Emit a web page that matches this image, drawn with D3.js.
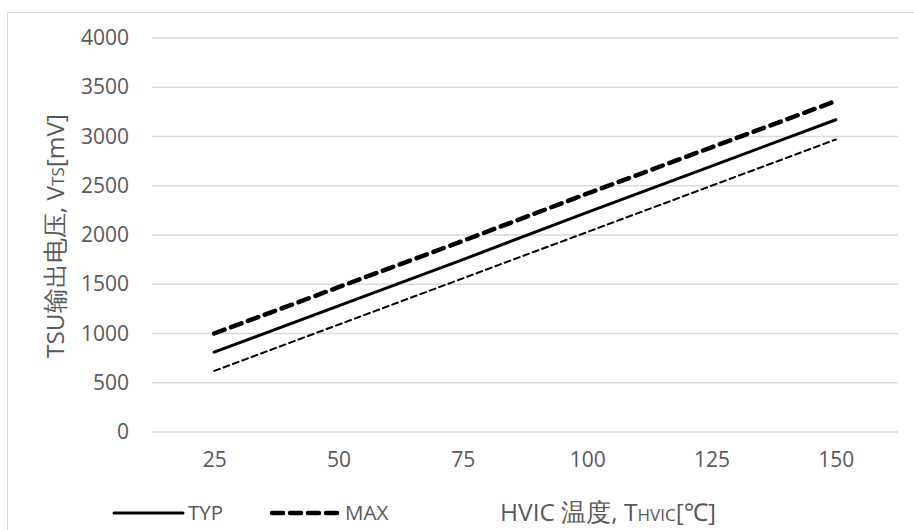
<!DOCTYPE html>
<html>
<head>
<meta charset="utf-8">
<script src="https://cdn.jsdelivr.net/npm/d3@7"></script>
<style>
  body { margin: 0; background: #fff; }
  text { font-family: "Open Sans", "Noto Sans", sans-serif; fill: #595959; }
</style>
</head>
<body>
<div class="board"></div>
<script>
// chart data
var temps = [25, 50, 75, 100, 125, 150];
var typVals = [810, 1280, 1750, 2230, 2700, 3170];
var maxVals = [1000, 1470, 1940, 2420, 2890, 3360];
var minVals = [620, 1090, 1560, 2030, 2500, 2970];
var yTicks = [0, 500, 1000, 1500, 2000, 2500, 3000, 3500, 4000];

var width = 914;
var height = 530;
var plot = {left: 152, right: 898, top: 38, bottom: 432};

var svg = d3.select('.board').append('svg')
  .attr('width', width)
  .attr('height', height);

// chart area frame (only top and left are in view)
svg.append('rect')
  .attr('x', 7.5).attr('y', 12.5)
  .attr('width', 940).attr('height', 560)
  .attr('fill', 'none')
  .attr('stroke', '#d9d9d9');

var x = d3.scalePoint().domain(temps)
  .range([plot.left, plot.right]).padding(0.5);
var y = d3.scaleLinear().domain([0, 4000])
  .range([plot.bottom, plot.top]);

// grid
svg.append('g').selectAll('line').data(yTicks)
  .enter().append('line')
  .attr('x1', plot.left).attr('x2', plot.right)
  .attr('y1', function(d) { return y(d); })
  .attr('y2', function(d) { return y(d); })
  .attr('stroke', '#d9d9d9')
  .attr('stroke-width', 1.3);

// y axis labels
var yAxis = svg.append('g')
  .attr('transform', 'translate(' + (plot.left - 23) + ',0)')
  .call(d3.axisLeft(y).tickValues(yTicks).tickFormat(d3.format('d'))
    .tickSize(0).tickPadding(0));
yAxis.select('.domain').remove();
yAxis.selectAll('text')
  .attr('font-size', 21)
  .style('font-family', '"Open Sans", sans-serif')
  .attr('fill', '#595959');

// x axis labels
var xAxis = svg.append('g')
  .attr('transform', 'translate(0,' + (plot.bottom + 20) + ')')
  .call(d3.axisBottom(x).tickSize(0).tickPadding(0));
xAxis.select('.domain').remove();
xAxis.selectAll('text')
  .attr('font-size', 21)
  .style('font-family', '"Open Sans", sans-serif')
  .attr('fill', '#595959');

// series
var series = [
  {name: 'MIN', vals: minVals, w: 2, dash: '6,4'},
  {name: 'TYP', vals: typVals, w: 3, dash: null},
  {name: 'MAX', vals: maxVals, w: 4.5, dash: '11,7'}
];

var line = d3.line()
  .x(function(d, i) { return x(temps[i]); })
  .y(function(d) { return y(d); });

svg.append('g').selectAll('path').data(series)
  .enter().append('path')
  .attr('d', function(d) { return line(d.vals); })
  .attr('fill', 'none')
  .attr('stroke', '#000')
  .attr('stroke-width', function(d) { return d.w; })
  .attr('stroke-dasharray', function(d) { return d.dash; })
  .attr('stroke-linecap', 'round');

// legend (MIN is not shown in the legend)
var legendItems = [
  {name: 'TYP', x1: 114, x2: 183, w: 3, dash: null},
  {name: 'MAX', x1: 272, x2: 340, w: 4.5, dash: '11,7'}
];
var legendY = 513;
svg.append('g').selectAll('line').data(legendItems)
  .enter().append('line')
  .attr('x1', function(d) { return d.x1; })
  .attr('x2', function(d) { return d.x2; })
  .attr('y1', legendY).attr('y2', legendY)
  .attr('stroke', '#000')
  .attr('stroke-width', function(d) { return d.w; })
  .attr('stroke-dasharray', function(d) { return d.dash; })
  .attr('stroke-linecap', 'round');
svg.append('g').selectAll('text').data(legendItems)
  .enter().append('text')
  .attr('x', function(d) { return d.x2 + 5; })
  .attr('y', legendY + 7)
  .attr('font-size', 20.5)
  .text(function(d) { return d.name; });

// x axis title
var xt = svg.append('text')
  .attr('x', 500).attr('y', 521)
  .attr('font-size', 24.5);
xt.append('tspan').text('HVIC 温度, T');
xt.append('tspan').attr('font-size', 17).text('HVIC');
xt.append('tspan').text('[℃]');

// y axis title
var yt = svg.append('text')
  .attr('transform', 'translate(64,236) rotate(-90)')
  .attr('text-anchor', 'middle')
  .attr('font-size', 24.5);
yt.append('tspan').text('TSU输出电压, V');
yt.append('tspan').attr('font-size', 17).text('TS');
yt.append('tspan').text('[mV]');
</script>
</body>
</html>
